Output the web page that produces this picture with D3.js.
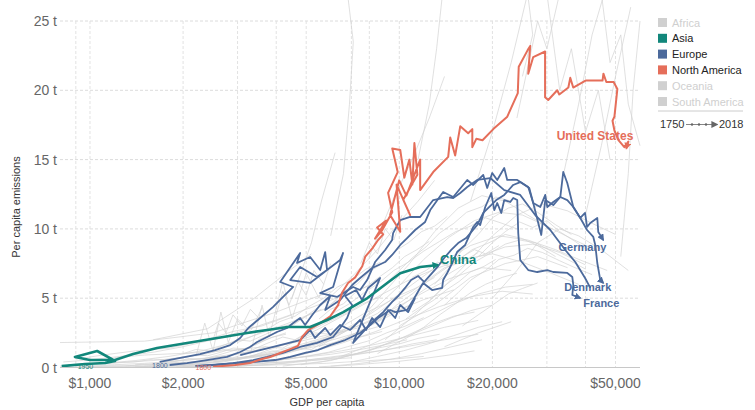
<!DOCTYPE html>
<html>
<head>
<meta charset="utf-8">
<script src="https://cdn.jsdelivr.net/npm/d3@7"></script>
<style>
  body { margin: 0; background: #fff; font-family: "Liberation Sans", Arial, sans-serif; }
</style>
</head>
<body>
<div id="root"></div>
<script>
// Axis values.
const xTicks = [1000, 2000, 5000, 10000, 20000, 50000];
const xGrid = [900, 1000, 2000, 3000, 4000, 5000, 7000, 8000, 10000, 20000, 30000, 40000, 50000];
const yTicks = [0, 5, 10, 15, 20, 25];

// Legend.
const continents = ['Africa', 'Asia', 'Europe', 'North America', 'Oceania', 'South America'];
const activeContinents = ['Asia', 'Europe', 'North America'];
const continentColors = { 'Asia': '#12877b', 'Europe': '#4c6a9c', 'North America': '#e56e5a' };

// Highlighted countries: [GDP per capita, tonnes CO2 per capita].
const chinaData = [[810,0.1],[965,0.25],[1120,0.33],[1205,0.47],[1055,1.19],[894,0.76],[1000,0.54],[1205,0.54],[1378,0.97],[1648,1.41],[2060,1.77],[2580,2.13],[3220,2.49],[3740,2.71],[4350,2.92],[5150,2.92],[5850,3.43],[6590,4.0],[7890,5.01],[9140,6.1],[10070,6.8],[11680,7.25],[13350,7.4]];

const usData = [[2500,0.05],[2950,0.18],[3290,0.33],[3600,0.61],[3820,0.76],[4120,1.05],[4435,1.33],[4700,1.55],[4850,2.2],[5070,2.7],[5550,3.2],[5980,3.7],[6340,4.5],[6530,5.4],[6830,6.1],[7200,6.5],[7590,7.3],[7760,8.0],[8180,8.6],[8540,9.2],[8870,9.6],[8480,10.1],[9070,10.6],[8350,9.3],[8800,9.9],[9490,11.2],[9200,12.6],[9880,14.1],[9490,15.8],[10070,15.7],[10380,13.7],[10780,15.0],[11020,13.2],[11190,16.2],[11440,13.9],[10300,12.1],[10840,11.0],[9800,13.2],[10070,9.8],[9340,11.0],[9990,13.5],[10540,12.4],[11680,15.0],[11680,12.8],[12870,14.1],[14390,15.2],[14610,16.6],[15160,15.3],[15740,17.4],[16700,16.9],[17220,17.2],[17220,15.9],[17740,16.5],[18580,16.4],[20130,17.2],[22340,18.1],[24160,19.8],[24330,21.7],[26000,22.9],[26500,23.2],[26110,21.2],[27100,22.4],[29600,22.8],[29600,19.5],[30300,19.3],[32400,20.0],[32900,19.7],[35200,20.2],[35700,20.9],[36500,20.2],[40000,20.7],[45400,20.7],[45700,21.2],[46700,20.6],[49300,20.6],[50700,20.1],[49600,18.1],[48900,17.8],[49600,17.1],[51100,16.4],[53400,15.9],[55000,16.3],[54200,15.8]];

const germanyData = [[2270,0.11],[2900,0.32],[3370,0.54],[3740,0.76],[4210,1.05],[4780,1.48],[5420,1.77],[6110,2.2],[6440,2.85],[6780,3.57],[7040,4.51],[6680,5.16],[7250,5.59],[7580,4.87],[7930,5.74],[8670,6.46],[7090,1.77],[8170,3.28],[8870,4.0],[9480,4.73],[9920,5.16],[10440,5.74],[10920,6.31],[11510,6.6],[12030,6.17],[12590,6.67],[13360,7.32],[13970,7.9],[14720,8.48],[15500,8.98],[16450,9.34],[17860,10.28],[18680,11.15],[20580,12.08],[21840,12.45],[23350,13.17],[24600,13.38],[26310,12.95],[27100,11.87],[28560,11.58],[29640,12.45],[30090,11.58],[31460,11.94],[33150,12.3],[34920,12.08],[36520,11.58],[38470,10.79],[39860,11.15],[40460,10.14],[41440,10.43],[43660,10.79],[43980,9.78],[45650,9.2]];

const denmarkData = [[1810,0.18],[2060,0.32],[2390,0.54],[2770,0.76],[3060,1.12],[3290,1.48],[3470,1.84],[3740,2.2],[4020,2.56],[4340,2.85],[4540,3.21],[4780,3.57],[4960,3.07],[5230,3.79],[5550,4.51],[5980,5.16],[5760,4.15],[6440,4.87],[7040,5.95],[7470,6.46],[8170,7.18],[9000,7.61],[9480,8.12],[10070,8.84],[10600,9.34],[11250,9.92],[12120,10.5],[12590,11.36],[13860,12.66],[14940,12.3],[16580,13.53],[17340,13.17],[18680,13.89],[19240,12.95],[19970,14.03],[20730,13.53],[21840,14.39],[22330,13.53],[24060,13.53],[26110,13.02],[27100,11.87],[28770,9.56],[29640,12.08],[31460,11.72],[33150,12.3],[33890,14.11],[34920,13.31],[36520,11.58],[38470,10.79],[40460,9.92],[42380,9.42],[43010,8.84],[43660,7.54],[44650,6.31],[45650,6.1]];

const franceData = [[2190,0.11],[2540,0.18],[2950,0.32],[3420,0.4],[3970,0.54],[4440,0.76],[4960,1.05],[5460,1.26],[5980,1.62],[6680,1.98],[7470,2.49],[8050,3.07],[8540,3.57],[9340,4.15],[9700,4.0],[10600,4.15],[11090,4.87],[11680,5.74],[11940,6.1],[12770,5.59],[13760,5.74],[13860,6.31],[14280,6.82],[14830,7.54],[15380,8.33],[16330,8.84],[17340,10.14],[17860,10.5],[18260,10.28],[18960,11.58],[19830,12.59],[20280,11.36],[20730,11.87],[21360,11.15],[21840,12.08],[22840,11.94],[23350,12.23],[24060,12.08],[24240,9.7],[24600,7.76],[26110,7.03],[27920,6.89],[30090,7.03],[31460,6.89],[34920,6.82],[36250,6.53],[36520,5.95],[36250,5.23],[37630,5.09],[38470,5.01]];

const europeOtherA = [[1680,0.4],[1960,0.69],[2270,0.97],[2540,1.26],[2840,1.62],[3060,2.13],[3250,2.85],[3550,3.57],[3910,4.37],[4210,5.09],[4540,5.81],[4120,6.17],[4780,8.26],[4670,7.54],[5150,7.97],[5550,7.03],[5760,8.33],[5840,7.03],[5420,6.53],[4780,7.25],[4440,6.31],[5150,6.1],[5840,7.03],[6440,7.76],[6580,8.26],[6110,5.81],[5550,5.37],[6290,5.09],[7090,5.81],[7470,5.59],[7870,6.31],[8350,7.61],[9000,8.48],[9480,9.2],[9550,9.7],[10070,10.64],[10840,10.86],[11680,10.86],[12870,12.08],[14280,12.3],[14940,12.23],[15740,12.59],[16580,13.02],[17860,13.53],[19680,13.67],[21840,12.8],[24600,12.45],[27500,11.0],[30770,9.92],[34400,8.48],[37060,7.61],[39860,6.46],[41440,5.74]];

const europeOtherB = [[3060,0.9],[3550,1.26],[4120,1.62],[4780,1.98],[5150,2.71],[5340,2.13],[5760,2.85],[5980,2.34],[6440,3.07],[6940,2.71],[7470,3.43],[7810,2.71],[8170,3.57],[8670,2.92],[9200,4.15],[9700,3.57],[10070,4.51],[10680,4.0],[11250,5.01]];

// Every other country, drawn faded in the background.
const otherCountries = [
  [[800,0.1],[950,0.15],[1200,0.2],[1500,0.3],[1900,0.45],[2400,0.7],[3000,1.0],[3800,1.4],[4800,1.9],[6000,2.4],[7500,2.9]],
  [[820,0.4],[1000,0.55],[1250,0.8],[1600,1.1],[2000,1.5],[2600,2.1],[3300,2.8],[4200,3.6],[5300,4.4],[6600,5.2],[8200,6.0]],
  [[1400,0.05],[1800,0.15],[2300,0.3],[2900,0.6],[3700,1.0],[4700,1.6],[6000,2.3],[7600,3.1],[9600,4.0],[12000,4.9],[15000,5.6]],
  [[1700,0.1],[2200,0.25],[2800,0.5],[3500,0.8],[4400,1.3],[5500,1.9],[7000,2.8],[9000,3.9],[11500,5.2],[14500,6.4],[18500,7.2],[23000,7.0]],
  [[2100,0.2],[2700,0.4],[3400,0.9],[4300,1.7],[5400,2.7],[6800,3.9],[8500,5.1],[10500,6.2],[13000,7.1],[16000,7.8],[20000,8.2],[25000,7.6],[31000,6.8],[38000,6.0]],
  [[2500,0.1],[3200,0.3],[4100,0.6],[5200,1.1],[6600,1.8],[8400,2.6],[10600,3.5],[13500,4.4],[17000,5.1],[21500,5.5],[27000,5.3]],
  [[3000,0.3],[3800,0.7],[4800,1.3],[6000,2.2],[7500,3.4],[9300,4.8],[11500,6.3],[14000,7.7],[17000,8.8],[21000,9.5],[26000,9.2],[32000,8.5],[39000,7.7],[47000,7.0]],
  [[1100,0.3],[1400,0.5],[1800,0.8],[2300,1.2],[2900,1.8],[3600,2.5],[4500,3.3],[5600,4.2]],
  [[900,0.6],[1100,0.9],[1400,1.2],[1800,1.4],[2300,1.9],[2900,2.6],[3600,3.0],[4500,3.8]],
  [[4000,0.5],[5000,1.0],[6300,1.8],[7900,2.9],[9800,4.2],[12000,5.6],[14800,6.9],[18000,8.0],[22000,8.7],[27000,8.9],[33000,8.3],[40000,7.4]],
  [[5500,1.5],[6800,2.7],[8300,4.2],[10000,5.9],[12000,7.8],[14500,9.4],[17500,10.6],[21000,11.2],[25000,11.0],[30000,10.2],[36000,9.3],[43000,8.5]],
  [[6500,0.8],[8000,1.6],[9800,2.5],[12000,3.5],[14700,4.5],[18000,5.3],[22000,5.8],[27000,6.0]],
  [[9000,2.0],[11000,3.6],[13500,5.5],[16500,7.5],[20000,9.5],[24000,11.0],[29000,11.8],[35000,11.3],[42000,10.4],[50000,9.6]],
  [[1300,0.02],[1700,0.08],[2200,0.18],[2900,0.3],[3800,0.5],[5000,0.8],[6500,1.2],[8500,1.7],[11000,2.3],[14000,2.9],[18000,3.4]],
  [[2000,0.05],[2600,0.12],[3400,0.25],[4500,0.45],[6000,0.7],[8000,1.1],[10500,1.5],[14000,2.0],[18000,2.4]],
  [[2200,0.8],[2350,3.2],[2500,1.2],[2650,4.0],[2800,1.8],[3000,3.5],[3300,2.6],[3600,4.3]],
  [[3300,1.0],[3600,4.5],[3800,2.2],[4200,6.2],[4500,3.5],[5000,6.8],[5500,5.0],[6000,7.5]],
  [[6000,9.5],[6600,14],[6900,19],[7100,23.5],[6800,27]],
  [[11500,15],[12500,19],[13200,23],[13800,27]],
  [[17000,12],[20000,17],[23000,22],[26000,27]],
  [[25000,21],[27000,24],[26000,27]],
  [[24000,18],[28000,25],[30000,23],[33000,27]],
  [[34000,14],[38000,19],[42000,24],[46000,27]],
  [[40000,11],[45000,16],[50000,21],[56000,26]],
  [[52000,8],[55000,14],[57000,20],[60000,25]],
  [[45000,27],[48000,22],[52000,24],[55000,19],[60000,16]],
  [[30000,27],[33000,20],[36000,23],[40000,17],[44000,20],[48000,15]],
  [[800,1.8],[1500,1.9],[2500,2.5],[4000,4.0],[6000,5.5]],
  [[1600,2.0],[2400,2.8],[3400,5.0],[4300,6.8],[5200,8.2]],
  [[4500,5],[5200,9],[5600,12],[6200,15.5]],
  [[8000,8],[9500,12],[11000,15],[12500,18],[14000,21]],
  [[1000,0.02],[1300,0.05],[1700,0.1],[2200,0.15],[2800,0.2],[3500,0.3],[4400,0.4],[5500,0.55],[7000,0.7]],
  [[6000,0.1],[7500,0.3],[9400,0.6],[11800,1.0],[14800,1.5],[18500,2.0]],
  [[1200,0.7],[1500,0.9],[1900,1.0],[2400,1.1],[3000,1.3],[3700,1.5]],
  [[3500,2.0],[4500,3.0],[5600,4.5],[7000,6.5],[8500,8.5],[10000,10.5],[11500,12],[13000,13.5]],
  [[7500,3.5],[9000,5.5],[10800,7.5],[13000,9.8],[15500,11.5],[18500,12.4],[22000,12.0],[26000,11.0],[31000,10.0]],
  [[10000,3.0],[13000,4.5],[17000,6.5],[22000,7.5],[28000,8.0],[35000,7.2]],
  [[14000,1.5],[18000,2.5],[23000,3.3]],
  [[20000,5],[24000,7],[28000,9],[33000,10],[38000,9.5],[45000,8.5],[55000,7]],
  [[1500,0.1],[1700,0.15],[1900,0.3],[2100,0.25],[2400,0.45],[2700,0.6],[3000,0.55],[3400,0.9],[3900,1.2],[4300,1.1],[4900,1.6],[5600,2.0],[6300,2.6],[7200,3.0]],
  [[1600,0.3],[1850,0.4],[2100,0.65],[2300,0.6],[2600,0.9],[3000,1.3],[3300,1.2],[3700,1.7],[4200,2.2],[4600,2.0],[5200,2.7],[5900,3.3],[6700,3.9],[7600,4.6],[8700,5.1]],
  [[1900,0.05],[2300,0.1],[2800,0.2],[3300,0.35],[3800,0.5],[4400,0.6],[5100,0.85],[5900,1.1],[6800,1.5],[7900,1.9],[9100,2.5],[10500,3.0],[12000,3.6]],
  [[2300,0.5],[2600,0.8],[2900,0.7],[3300,1.1],[3700,1.5],[4200,1.4],[4700,2.0],[5300,2.5],[6000,2.4],[6800,3.2],[7700,3.9],[8800,4.5],[10000,5.2],[11500,5.8],[13000,6.5]],
  [[3500,0.6],[4000,1.0],[4600,1.4],[5200,1.3],[5900,2.0],[6700,2.6],[7500,3.3],[8500,3.9],[9600,4.8],[11000,5.5],[12500,6.4],[14000,7.2],[16000,7.6],[18000,8.3]],
  [[4200,0.1],[5000,0.3],[6000,0.5],[7000,0.9],[8200,1.3],[9500,1.9],[11000,2.4],[12800,3.0],[14800,3.6],[17000,4.1],[20000,4.5]],
  [[2700,0.05],[3200,0.15],[3800,0.2],[4500,0.4],[5300,0.6],[6200,0.8],[7300,1.0],[8500,1.4],[10000,1.7],[11500,2.1],[13500,2.4]],
  [[1000,0.05],[1150,0.1],[1300,0.12],[1500,0.2],[1700,0.22],[2000,0.35],[2300,0.4],[2600,0.55],[3000,0.7],[3400,0.8],[3900,1.0]],
  [[1200,0.35],[1400,0.4],[1600,0.6],[1800,0.55],[2100,0.8],[2400,1.0],[2700,1.3],[3000,1.2],[3400,1.6],[3800,2.1],[4300,2.5]],
  [[5000,2.5],[5600,3.2],[6200,4.0],[6900,4.6],[7700,5.4],[8600,6.1],[9600,7.0],[10700,7.6],[12000,8.4],[13500,9.1],[15200,9.8],[17000,10.2],[19000,10.8],[21500,10.4],[24000,10.0]],
  [[7000,2.2],[7800,2.9],[8800,3.6],[9800,4.5],[11000,5.3],[12300,6.2],[13800,7.0],[15400,7.7],[17200,8.5],[19500,9.0],[22000,9.6],[25000,9.3],[28000,8.8],[32000,8.0]],
  [[8500,1.0],[9500,1.6],[10700,2.2],[12000,2.9],[13500,3.8],[15200,4.6],[17000,5.4],[19000,6.0],[21500,6.5],[24000,6.8]],
  [[11000,4.0],[12500,4.8],[14000,5.9],[15500,6.6],[17500,7.6],[19500,8.2],[22000,8.9],[24500,9.2],[27500,9.0],[31000,8.4],[35000,7.8],[40000,7.1]],
  [[13000,6.0],[14500,7.2],[16000,8.5],[18000,9.6],[20000,10.8],[22500,11.5],[25000,11.8],[28000,11.2],[32000,10.3],[36000,9.6]],
  [[16000,3.0],[18000,3.8],[20000,4.5],[22500,5.3],[25000,5.7],[28000,6.1]],
  [[2000,1.0],[2200,1.3],[2450,1.2],[2700,1.6],[3000,2.0],[3300,1.9],[3700,2.4],[4100,2.9],[4600,3.2],[5100,3.8],[5700,4.2],[6300,4.9]],
  [[3000,1.8],[3300,2.2],[3700,2.7],[4100,3.3],[4600,3.7],[5100,4.4],[5700,5.0],[6300,5.8],[7000,6.3],[7800,7.1],[8700,7.6]],
  [[6000,4.5],[6600,5.5],[7300,6.0],[8000,6.9],[8800,7.5],[9700,8.4],[10700,9.0],[11800,9.8],[13000,10.2],[14300,10.9]],
  [[9000,6.0],[10000,7.0],[11000,7.9],[12200,8.7],[13500,9.7],[15000,10.4],[16500,11.2],[18500,11.6],[20500,12.3],[23000,12.0]],
  [[1800,0.6],[2000,0.7],[2200,0.9],[2400,0.85],[2650,1.1],[2900,1.4],[3200,1.35],[3500,1.8],[3900,2.2],[4300,2.4]],
  [[4800,0.2],[5600,0.4],[6500,0.7],[7500,1.1],[8600,1.5],[9900,2.0],[11300,2.6],[13000,3.2],[15000,3.7],[17500,4.0]],
  [[3600,0.3],[4100,0.5],[4700,0.9],[5300,1.2],[6000,1.7],[6800,2.2],[7700,2.8],[8700,3.4],[9800,4.0],[11000,4.6]],
  [[14000,4.5],[15500,5.4],[17000,6.3],[19000,7.0],[21000,7.8],[23500,8.1],[26000,8.6],[29000,8.3],[33000,7.7],[37000,7.2],[42000,6.7]],
  [[18000,8.0],[20000,9.0],[22000,9.8],[24500,10.5],[27000,10.1],[30000,10.6],[33000,9.8],[37000,9.1],[41000,8.4]],
  [[850,0.2],[950,0.25],[1050,0.3],[1150,0.28],[1300,0.38],[1450,0.45],[1600,0.5],[1800,0.62],[2000,0.75]],
  [[900,0.05],[1000,0.08],[1100,0.12],[1250,0.1],[1400,0.15],[1550,0.18],[1700,0.22],[1900,0.3]],
  [[2500,2.0],[2600,3.2],[2750,2.5],[2900,3.8],[3100,3.0],[3300,4.2],[3500,3.6]],
  [[4000,3.8],[4200,5.5],[4400,4.5],[4700,6.2],[5000,5.2],[5300,7.0],[5700,6.0]],
  [[7500,7.5],[8000,9],[8500,8.2],[9000,10],[9600,9.2],[10200,11]],
  [[11000,6.5],[12200,7.0],[13300,7.6],[14500,7.3],[16000,8.0],[17500,8.5],[19000,8.2],[21000,8.8]],
  [[10500,3.5],[11800,4.3],[13000,4.9],[14200,5.6],[15600,6.2],[17000,6.9],[18800,7.3],[20500,7.8]],
  [[5500,3.5],[6000,4.2],[6600,4.6],[7200,5.4],[7900,5.9],[8700,6.6],[9500,7.2],[10400,8.0],[11400,8.5],[12500,9.1]],
  [[1600,0.02],[2100,0.05],[2700,0.08],[3500,0.15],[4500,0.22],[5800,0.3],[7400,0.45],[9500,0.6],[12000,0.8]],
  [[2200,0.15],[2700,0.25],[3300,0.35],[4000,0.55],[4900,0.75],[6000,0.95],[7300,1.25],[8800,1.6],[10600,2.0]],
  [[1400,0.2],[1700,0.3],[2100,0.4],[2600,0.55],[3200,0.75],[3900,1.0],[4800,1.3],[5900,1.7],[7200,2.1],[8800,2.6]],
  [[3000,0.1],[3600,0.2],[4300,0.3],[5200,0.5],[6300,0.7],[7600,1.0],[9200,1.3],[11000,1.7],[13200,2.0]],
  [[5500,0.05],[6800,0.15],[8300,0.3],[10000,0.45],[12000,0.65],[14500,0.9],[17500,1.2]],
  [[2500,0.4],[3000,0.6],[3600,0.8],[4300,1.1],[5100,1.5],[6100,2.0],[7300,2.5],[8700,3.0]],
  [[1750,0.45],[2100,0.55],[2500,0.7],[3000,0.95],[3600,1.3],[4300,1.7],[5100,2.2],[6100,2.8]],
  [[7000,0.4],[8500,0.8],[10300,1.2],[12400,1.7],[15000,2.3],[18000,2.9],[21500,3.3]]
];

// Chart size.
const width = 755;
const height = 410;

const x = d3.scaleLog().domain([800, 60000]).range([60, 640]);
const y = d3.scaleLinear().domain([0, 25]).range([367.5, 21]);

const svg = d3.select('#root')
  .append('svg')
  .attr('width', width)
  .attr('height', height)
  .style('font-family', '"Liberation Sans", Arial, sans-serif');

const defs = svg.append('defs');
defs.append('clipPath').attr('id', 'plot-clip')
  .append('rect').attr('x', 60).attr('y', 0).attr('width', 588).attr('height', 368);

function addArrow(id, color) {
  defs.append('marker')
    .attr('id', id)
    .attr('viewBox', '0 0 10 10')
    .attr('refX', 8).attr('refY', 5)
    .attr('markerWidth', 7).attr('markerHeight', 7)
    .attr('markerUnits', 'userSpaceOnUse')
    .attr('orient', 'auto')
    .append('path').attr('d', 'M0,0L10,5L0,10z').attr('fill', color);
}
addArrow('arrow-asia', continentColors['Asia']);
addArrow('arrow-europe', continentColors['Europe']);
addArrow('arrow-na', continentColors['North America']);
addArrow('arrow-legend', '#666');

// Grid lines.
svg.append('g')
  .selectAll('line')
  .data(yTicks.filter(d => d > 0))
  .join('line')
  .attr('x1', 60).attr('x2', 640)
  .attr('y1', d => y(d)).attr('y2', d => y(d))
  .attr('stroke', '#dcdcdc')
  .attr('stroke-dasharray', '3,2');

svg.append('g')
  .selectAll('line')
  .data(xGrid)
  .join('line')
  .attr('x1', d => x(d)).attr('x2', d => x(d))
  .attr('y1', y(25)).attr('y2', y(0))
  .attr('stroke', '#e2e2e2')
  .attr('stroke-dasharray', '3,2');

// Tick labels.
svg.append('g')
  .selectAll('text')
  .data(yTicks)
  .join('text')
  .attr('x', 57)
  .attr('y', d => y(d) + 5)
  .attr('text-anchor', 'end')
  .style('font-size', '14px')
  .attr('fill', '#666')
  .text(d => d + ' t');

svg.append('g')
  .selectAll('text')
  .data(xTicks)
  .join('text')
  .attr('x', d => x(d))
  .attr('y', 388)
  .attr('text-anchor', 'middle')
  .style('font-size', '14px')
  .attr('fill', '#666')
  .text(d => '$' + d3.format(',')(d));

svg.append('text')
  .attr('x', 327).attr('y', 406)
  .attr('text-anchor', 'middle')
  .style('font-size', '11px')
  .attr('fill', '#333')
  .text('GDP per capita');

svg.append('text')
  .attr('transform', 'translate(20,207) rotate(-90)')
  .attr('text-anchor', 'middle')
  .style('font-size', '11px')
  .attr('fill', '#333')
  .text('Per capita emissions');

// Lines.
const line = d3.line().x(d => x(d[0])).y(d => y(d[1]));
const plot = svg.append('g').attr('clip-path', 'url(#plot-clip)');

plot.append('g')
  .selectAll('path')
  .data(otherCountries)
  .join('path')
  .attr('d', line)
  .attr('fill', 'none')
  .attr('stroke', '#d2d2d2')
  .attr('stroke-width', 0.7);

svg.append('line')
  .attr('x1', 60).attr('x2', 640)
  .attr('y1', y(0)).attr('y2', y(0))
  .attr('stroke', '#c8c8c8');

const highlighted = [
  { name: 'europeOtherB', data: europeOtherB, color: continentColors['Europe'], arrow: null, w: 1.8 },
  { name: 'europeOtherA', data: europeOtherA, color: continentColors['Europe'], arrow: null, w: 1.8 },
  { name: 'France', data: franceData, color: continentColors['Europe'], arrow: 'arrow-europe', w: 1.8 },
  { name: 'Denmark', data: denmarkData, color: continentColors['Europe'], arrow: 'arrow-europe', w: 1.8 },
  { name: 'Germany', data: germanyData, color: continentColors['Europe'], arrow: 'arrow-europe', w: 1.8 },
  { name: 'United States', data: usData, color: continentColors['North America'], arrow: 'arrow-na', w: 2 },
  { name: 'China', data: chinaData, color: continentColors['Asia'], arrow: 'arrow-asia', w: 2.6 }
];

plot.append('g')
  .selectAll('path')
  .data(highlighted)
  .join('path')
  .attr('d', d => line(d.data))
  .attr('fill', 'none')
  .attr('stroke', d => d.color)
  .attr('stroke-width', d => d.w)
  .attr('stroke-linejoin', 'round')
  .attr('marker-end', d => d.arrow ? `url(#${d.arrow})` : null);

// End labels.
const endLabels = [
  { text: 'United States', data: usData, color: continentColors['North America'], anchor: 'end', dx: 7, dy: -9, size: 12 },
  { text: 'China', data: chinaData, color: continentColors['Asia'], anchor: 'start', dx: 2, dy: -1, size: 13 },
  { text: 'Germany', data: germanyData, color: continentColors['Europe'], anchor: 'end', dx: 3, dy: 11, size: 11 },
  { text: 'Denmark', data: denmarkData, color: continentColors['Europe'], anchor: 'end', dx: 8, dy: 8, size: 11 },
  { text: 'France', data: franceData, color: continentColors['Europe'], anchor: 'start', dx: 3, dy: 9, size: 11 }
];

svg.append('g')
  .selectAll('text')
  .data(endLabels)
  .join('text')
  .attr('x', d => x(d.data[d.data.length - 1][0]) + d.dx)
  .attr('y', d => y(d.data[d.data.length - 1][1]) + d.dy)
  .attr('text-anchor', d => d.anchor)
  .style('font-size', d => d.size + 'px')
  .style('font-weight', 'bold')
  .attr('fill', d => d.color)
  .text(d => d.text);

// Start year labels.
const startLabels = [
  { text: '1950', data: chinaData, color: continentColors['Asia'], dx: 16 },
  { text: '1800', data: denmarkData, color: continentColors['Europe'], dx: -2 },
  { text: '1800', data: usData, color: continentColors['North America'], dx: -2 }
];

svg.append('g')
  .selectAll('text')
  .data(startLabels)
  .join('text')
  .attr('x', d => x(d.data[0][0]) + d.dx)
  .attr('y', d => y(d.data[0][1]) + 3)
  .attr('text-anchor', d => d.dx > 0 ? 'start' : 'end')
  .style('font-size', '7px')
  .attr('fill', d => d.color)
  .text(d => d.text);

// Legend.
const legend = svg.append('g').attr('transform', 'translate(658,0)');
const legendItem = legend.selectAll('g')
  .data(continents)
  .join('g')
  .attr('transform', (d, i) => `translate(0,${22.5 + i * 15.8})`);

legendItem.append('rect')
  .attr('x', 0).attr('y', -4.5)
  .attr('width', 9).attr('height', 9)
  .attr('fill', d => continentColors[d] || '#d0d0d0');

legendItem.append('text')
  .attr('x', 14).attr('y', 4)
  .style('font-size', '11px')
  .attr('fill', d => activeContinents.includes(d) ? '#222' : '#cfcfcf')
  .text(d => d);

legend.append('line')
  .attr('x1', 0).attr('x2', 85)
  .attr('y1', 111).attr('y2', 111)
  .attr('stroke', '#ccc');

legend.append('text')
  .attr('x', 2).attr('y', 128)
  .style('font-size', '11px')
  .attr('fill', '#333')
  .text('1750');

legend.append('line')
  .attr('x1', 28).attr('x2', 59)
  .attr('y1', 124.5).attr('y2', 124.5)
  .attr('stroke', '#666')
  .attr('stroke-width', 0.8)
  .attr('marker-end', 'url(#arrow-legend)');

legend.selectAll('circle.tick')
  .data([34, 41, 48])
  .join('circle')
  .attr('class', 'tick')
  .attr('cx', d => d).attr('cy', 124.5).attr('r', 1.2)
  .attr('fill', '#666');

legend.append('text')
  .attr('x', 61).attr('y', 128)
  .style('font-size', '11px')
  .attr('fill', '#333')
  .text('2018');
</script>
</body>
</html>
